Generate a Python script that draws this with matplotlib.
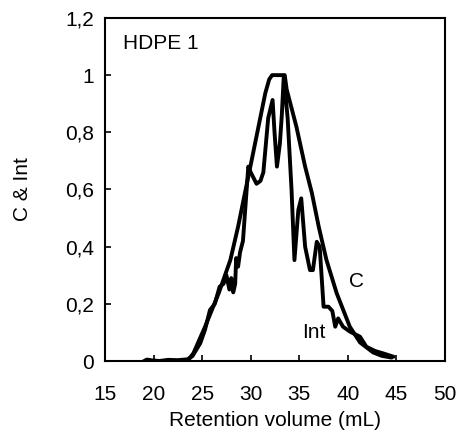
import matplotlib
matplotlib.use("Agg")
import matplotlib.pyplot as plt
from matplotlib.ticker import FuncFormatter

plt.rcParams['font.family'] = ['Liberation Sans', 'DejaVu Sans']

# C curve (concentration)
c_x = [23.0, 23.6, 24.1, 25.3, 26.7, 27.9, 28.7, 29.4, 30.1, 30.8, 31.5, 31.9, 32.2, 33.5,
       33.7, 34.7, 35.6, 36.3, 37.0, 37.8, 38.85, 40.2, 41.25, 42.6, 43.5, 44.5]
c_y = [0.0, 0.005, 0.027, 0.12, 0.237, 0.353, 0.47, 0.587, 0.703, 0.82, 0.937, 0.985, 1.0, 1.0,
       0.95, 0.82, 0.68, 0.587, 0.47, 0.353, 0.237, 0.12, 0.065, 0.03, 0.018, 0.012]

# Int curve (intensity)
int_x = [18.6, 19.3, 19.9, 20.6, 21.5, 22.5, 23.5, 24.0, 24.8, 25.3, 25.8, 26.3, 26.8,
         27.2, 27.5, 27.8, 28.0, 28.2, 28.4, 28.5, 28.7, 28.9, 29.2, 29.75, 30.0, 30.3,
         30.6, 31.0, 31.3, 31.8, 32.25, 32.45, 32.7, 33.0, 33.2, 33.4, 33.8, 34.2, 34.5,
         34.9, 35.2, 35.6, 36.1, 36.4, 36.8, 37.1, 37.5, 38.0, 38.4, 38.7, 39.0, 39.5,
         40.2, 41.25, 41.9, 42.8, 43.6, 44.7]
int_y = [-0.008, 0.005, 0.002, 0.0, 0.004, 0.003, 0.006, 0.017, 0.062, 0.11, 0.178, 0.2, 0.26,
         0.27, 0.3, 0.25, 0.29, 0.24, 0.27, 0.36, 0.33, 0.38, 0.42, 0.68, 0.66, 0.64,
         0.62, 0.63, 0.66, 0.85, 0.913, 0.8, 0.68, 0.76, 0.86, 0.995, 0.85, 0.6, 0.353,
         0.528, 0.569, 0.40, 0.318, 0.318, 0.417, 0.40, 0.19, 0.19, 0.175, 0.12, 0.149, 0.12,
         0.103, 0.085, 0.05, 0.035, 0.027, 0.015]

x_ticks = [15, 20, 25, 30, 35, 40, 45, 50]
y_ticks = [0, 0.2, 0.4, 0.6, 0.8, 1.0, 1.2]

fig = plt.figure(figsize=(4.59, 4.37), dpi=100)
ax = fig.add_axes([0.2288, 0.1739, 0.7407, 0.785])

ax.plot(c_x, c_y, color='black', lw=2.8, solid_joinstyle='round', solid_capstyle='round')
ax.plot(int_x, int_y, color='black', lw=2.8, solid_joinstyle='round', solid_capstyle='round')

ax.set_xlim(15, 50)
ax.set_ylim(0, 1.2)
ax.set_xticks(x_ticks)
ax.set_yticks(y_ticks)

def fmt(v, pos):
    s = ('%g' % round(v, 2))
    return s.replace('.', ',')

ax.yaxis.set_major_formatter(FuncFormatter(fmt))
ax.tick_params(direction='in', length=4, width=1.2, labelsize=15, colors='black')
ax.tick_params(axis='x', pad=17)
ax.tick_params(axis='y', pad=8)
for sp in ax.spines.values():
    sp.set_linewidth(1.5)

ax.set_xlabel('Retention volume (mL)', fontsize=15, labelpad=5)
ax.set_ylabel('C & Int', fontsize=15, labelpad=24)

ax.text(16.85, 1.111, 'HDPE 1', fontsize=15, ha='left', va='center')
ax.text(40.9, 0.277, 'C', fontsize=15, ha='center', va='center')
ax.text(36.46, 0.10, 'Int', fontsize=15, ha='center', va='center')

fig.savefig('out.png', dpi=100)
